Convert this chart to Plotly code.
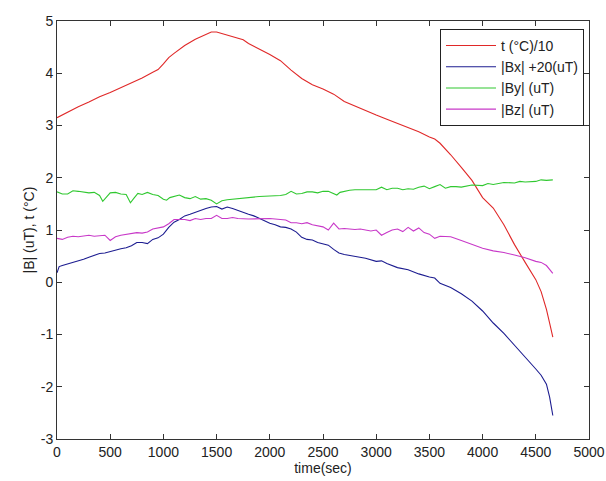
import plotly.graph_objects as go

t_x = [0,100,200,300,400,500,600,700,800,900,950,1000,1050,1100,1200,1300,1400,1450,1500,1550,1600,1700,1750,1800,1900,2000,2100,2200,2300,2400,2500,2600,2700,2800,2900,3000,3100,3200,3300,3400,3500,3550,3600,3650,3700,3800,3900,4000,4100,4200,4300,4400,4450,4500,4550,4600,4630,4660]
t_y = [3.15,3.26,3.36,3.45,3.55,3.63,3.72,3.82,3.91,4.02,4.07,4.18,4.30,4.38,4.53,4.65,4.75,4.79,4.79,4.76,4.72,4.67,4.64,4.57,4.47,4.36,4.24,4.06,3.90,3.78,3.70,3.60,3.46,3.37,3.28,3.20,3.12,3.04,2.96,2.88,2.78,2.74,2.66,2.56,2.44,2.20,1.95,1.62,1.42,1.10,0.72,0.38,0.22,0.05,-0.18,-0.52,-0.78,-1.05]

bx_x = [0,20,50,100,150,200,250,300,350,400,450,500,550,600,650,700,750,800,850,900,950,1000,1050,1100,1150,1200,1250,1300,1350,1400,1450,1500,1550,1600,1650,1700,1750,1800,1850,1900,1950,2000,2050,2100,2150,2200,2250,2300,2350,2400,2450,2500,2550,2600,2650,2700,2800,2900,3000,3050,3100,3200,3300,3400,3500,3550,3600,3700,3800,3900,4000,4100,4200,4300,4400,4500,4550,4600,4630,4660]
bx_y = [0.18,0.30,0.32,0.35,0.37,0.40,0.44,0.48,0.52,0.55,0.56,0.59,0.62,0.64,0.66,0.70,0.76,0.76,0.74,0.82,0.85,0.92,1.05,1.15,1.20,1.27,1.30,1.34,1.38,1.41,1.44,1.45,1.40,1.44,1.41,1.37,1.34,1.30,1.27,1.22,1.17,1.13,1.10,1.06,1.05,1.02,0.96,0.86,0.82,0.81,0.76,0.73,0.71,0.63,0.56,0.53,0.50,0.46,0.40,0.41,0.36,0.28,0.24,0.16,0.10,0.08,-0.02,-0.10,-0.22,-0.36,-0.55,-0.78,-0.98,-1.20,-1.43,-1.66,-1.78,-1.95,-2.20,-2.55]

by_x = [0,50,100,150,200,250,300,350,400,430,460,500,550,600,650,690,720,760,800,850,900,950,1000,1030,1060,1100,1150,1200,1250,1300,1350,1400,1450,1500,1550,1600,1700,1800,1900,2000,2100,2150,2200,2250,2300,2350,2400,2450,2500,2550,2600,2630,2660,2700,2750,2800,2900,3000,3050,3100,3150,3200,3250,3300,3350,3400,3450,3500,3550,3600,3650,3700,3750,3800,3900,4000,4050,4100,4200,4300,4350,4400,4500,4550,4600,4660]
by_y = [1.73,1.69,1.69,1.75,1.74,1.73,1.71,1.72,1.66,1.55,1.62,1.71,1.72,1.69,1.68,1.52,1.60,1.70,1.68,1.72,1.68,1.66,1.59,1.57,1.62,1.64,1.67,1.62,1.60,1.64,1.59,1.60,1.57,1.50,1.56,1.58,1.60,1.63,1.64,1.65,1.66,1.68,1.74,1.69,1.70,1.73,1.73,1.71,1.74,1.74,1.69,1.67,1.72,1.74,1.76,1.77,1.77,1.77,1.82,1.77,1.80,1.80,1.77,1.79,1.78,1.82,1.84,1.79,1.83,1.87,1.80,1.83,1.83,1.82,1.86,1.85,1.89,1.87,1.91,1.90,1.93,1.92,1.93,1.96,1.95,1.96]

bz_x = [0,50,100,150,200,250,300,350,400,450,500,550,600,650,700,750,800,850,900,950,1000,1050,1100,1150,1200,1250,1300,1350,1400,1450,1500,1550,1600,1650,1700,1800,1900,2000,2100,2150,2200,2250,2300,2350,2400,2450,2500,2550,2600,2650,2700,2750,2800,2850,2900,2950,3000,3050,3100,3150,3200,3250,3300,3350,3400,3450,3500,3550,3600,3700,3800,3900,4000,4100,4200,4300,4400,4500,4550,4600,4660]
bz_y = [0.84,0.82,0.86,0.88,0.87,0.88,0.90,0.88,0.89,0.90,0.80,0.87,0.90,0.92,0.94,0.95,0.94,0.96,1.02,1.04,1.06,1.12,1.20,1.20,1.20,1.18,1.22,1.20,1.22,1.22,1.28,1.22,1.22,1.24,1.22,1.21,1.21,1.22,1.20,1.19,1.14,1.14,1.12,1.14,1.10,1.08,1.06,1.00,1.13,1.02,1.03,1.02,1.01,1.02,1.00,0.98,1.00,0.90,0.95,1.00,1.02,0.97,1.05,0.98,1.04,0.95,0.92,0.84,0.88,0.87,0.80,0.72,0.65,0.60,0.57,0.52,0.47,0.40,0.38,0.32,0.17]

names = ["t (°C)/10", "|Bx| +20(uT)", "|By| (uT)", "|Bz| (uT)"]
colors = ["#e02828", "#1c1c90", "#30c830", "#c838c8"]

x_ticks = [0,500,1000,1500,2000,2500,3000,3500,4000,4500,5000]
y_ticks = [-3,-2,-1,0,1,2,3,4,5]

fig = go.Figure()
for xs, ys, nm, c in zip([t_x, bx_x, by_x, bz_x], [t_y, bx_y, by_y, bz_y], names, colors):
    fig.add_trace(go.Scatter(x=xs, y=ys, mode="lines", name=nm,
                             line=dict(color=c, width=1.1)))

font = dict(family="Liberation Sans, Arial, sans-serif", size=14, color="#222222")
axis_common = dict(showline=True, linecolor="#333333", linewidth=1, mirror="ticks",
                   ticks="inside", ticklen=5, tickcolor="#333333", showgrid=False,
                   zeroline=False, tickfont=font, automargin=False)
fig.update_layout(
    width=606, height=481,
    margin=dict(l=57, r=17, t=21, b=42),
    paper_bgcolor="white", plot_bgcolor="white",
    font=font,
    xaxis=dict(range=[0, 5000], tickvals=x_ticks, ticktext=[str(v) for v in x_ticks],
               title=dict(text="time(sec)", font=font, standoff=4), **axis_common),
    yaxis=dict(range=[-3, 5], tickvals=y_ticks, ticktext=[str(v) for v in y_ticks],
               title=dict(text="|B| (uT), t (°C)", font=font, standoff=2), **axis_common),
    legend=dict(x=0.9906, y=0.981, xanchor="right", yanchor="top",
                bordercolor="#222222", borderwidth=1, bgcolor="white",
                font=font, itemwidth=50, tracegroupgap=0),
    showlegend=True,
)
fig.write_html("out.html", config={"displayModeBar": False},
               post_script="document.body.style.margin='0px';document.body.style.overflow='hidden';")
